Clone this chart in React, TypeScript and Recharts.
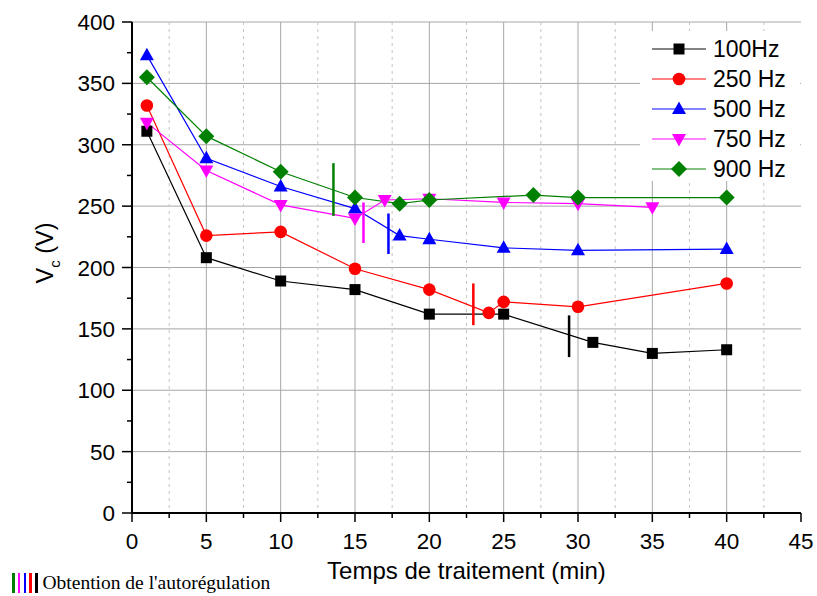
import React from 'react';
import { LineChart, Line, XAxis, YAxis, CartesianGrid, ReferenceLine } from 'recharts';

// Temps de traitement (min) et tension Vc (V) pour chaque fréquence
const t100 = [1, 5, 10, 15, 20, 25, 31, 35, 40];
const vc100 = [311, 208, 189, 182, 162, 162, 139, 130, 133];

const t250 = [1, 5, 10, 15, 20, 24, 25, 30, 40];
const vc250 = [332, 226, 229, 199, 182, 163, 172, 168, 187];

const t500 = [1, 5, 10, 15, 18, 20, 25, 30, 40];
const vc500 = [373, 289, 266, 248, 226, 223, 216, 214, 215];

const t750 = [1, 5, 10, 15, 17, 20, 25, 30, 35];
const vc750 = [318, 279, 251, 240, 255, 256, 253, 252, 249];

const t900 = [1, 5, 10, 15, 18, 20, 27, 30, 40];
const vc900 = [355, 307, 278, 257, 252, 255, 259, 257, 257];

// Obtention de l'autorégulation (traits verticaux)
const regKeys = ['900', '750', '500', '250', '100'];
const regT = [13.55, 15.57, 17.25, 22.96, 29.4];
const regLow = [242, 220, 211, 153, 127];
const regHigh = [285, 253, 244, 187, 161];

const xMajor = [0, 5, 10, 15, 20, 25, 30, 35, 40, 45];
const xMinor = [2.5, 7.5, 12.5, 17.5, 22.5, 27.5, 32.5, 37.5, 42.5];
const yMajor = [0, 50, 100, 150, 200, 250, 300, 350, 400];
const yMinor = [25, 75, 125, 175, 225, 275, 325, 375];

type Shape = 'square' | 'circle' | 'up' | 'down' | 'diamond';

const SERIES = [
  { key: '100', label: '100Hz', t: t100, v: vc100, color: '#000000', shape: 'square' as Shape },
  { key: '250', label: '250 Hz', t: t250, v: vc250, color: '#ff0000', shape: 'circle' as Shape },
  { key: '500', label: '500 Hz', t: t500, v: vc500, color: '#0000ff', shape: 'up' as Shape },
  { key: '750', label: '750 Hz', t: t750, v: vc750, color: '#ff00ff', shape: 'down' as Shape },
  { key: '900', label: '900 Hz', t: t900, v: vc900, color: '#008000', shape: 'diamond' as Shape },
];

const FONT = '"Liberation Sans", Arial, Helvetica, sans-serif';

function Marker({ shape, cx, cy, color }: { shape: Shape; cx: number; cy: number; color: string }) {
  if (cx == null || cy == null) return null;
  switch (shape) {
    case 'square':
      return <rect x={cx - 5.5} y={cy - 5.5} width={11} height={11} fill={color} />;
    case 'circle':
      return <circle cx={cx} cy={cy} r={6.3} fill={color} />;
    case 'up':
      return <polygon points={`${cx},${cy - 7.5} ${cx + 7},${cy + 5} ${cx - 7},${cy + 5}`} fill={color} />;
    case 'down':
      return <polygon points={`${cx - 7},${cy - 5} ${cx + 7},${cy - 5} ${cx},${cy + 7.5}`} fill={color} />;
    default:
      return <polygon points={`${cx},${cy - 8} ${cx + 8},${cy} ${cx},${cy + 8} ${cx - 8},${cy}`} fill={color} />;
  }
}

function XTick({ x, y, payload }: any) {
  const major = payload.value % 5 === 0;
  return (
    <g>
      <line x1={x} x2={x} y1={y} y2={y + (major ? 9 : 5)} stroke="#000" strokeWidth={1.5} />
      {major && (
        <text x={x} y={y + 36} textAnchor="middle" fontSize={22.5} fontFamily={FONT} fill="#000">
          {payload.value}
        </text>
      )}
    </g>
  );
}

function YTick({ x, y, payload }: any) {
  const major = payload.value % 50 === 0;
  return (
    <g>
      <line x1={x} x2={x - (major ? 10 : 5)} y1={y} y2={y} stroke="#000" strokeWidth={1.5} />
      {major && (
        <text x={x - 17} y={y + 8} textAnchor="end" fontSize={22.5} fontFamily={FONT} fill="#000">
          {payload.value}
        </text>
      )}
    </g>
  );
}

function YTitle() {
  return (
    <text transform="translate(53,253) rotate(-90)" textAnchor="middle" fontSize={23.5} fontFamily={FONT} fill="#000">
      V<tspan dy={7} fontSize={15}>c</tspan>
      <tspan dy={-7}> (V)</tspan>
    </text>
  );
}

function LegendBox() {
  return (
    <div
      style={{
        position: 'absolute', left: 640, top: 31, width: 160, height: 150,
        background: '#fff', fontFamily: FONT, fontSize: 23, color: '#000',
      }}
    >
      {SERIES.map((s, i) => (
        <div key={s.key} style={{ position: 'absolute', left: 0, top: 3 + i * 30, height: 30, display: 'flex', alignItems: 'center' }}>
          <svg width={70} height={30} style={{ display: 'block' }}>
            <line x1={12} x2={66} y1={15} y2={15} stroke={s.color} strokeOpacity={0.65} strokeWidth={1.5} />
            <Marker shape={s.shape} cx={39} cy={15} color={s.color} />
          </svg>
          <span style={{ marginLeft: 3, lineHeight: '30px' }}>{s.label}</span>
        </div>
      ))}
    </div>
  );
}

export default function App() {
  const seriesData = SERIES.map((s) => ({
    ...s,
    data: s.t.map((t, i) => ({ t, vc: s.v[i] })),
  }));
  const colorOf = (k: string) => SERIES.find((s) => s.key === k)!.color;

  return (
    <div style={{ position: 'absolute', left: 0, top: 0, width: 817, height: 596, background: '#fff' }}>
      <LineChart width={817} height={596} margin={{ top: 22, right: 16, bottom: 0, left: 0 }}>
        <CartesianGrid
          verticalValues={xMajor.filter((v) => v > 0 && v < 45)}
          horizontalValues={yMajor.filter((v) => v > 0)}
          stroke="#a6a6a6"
          strokeWidth={1}
        />
        <CartesianGrid verticalValues={xMinor} horizontal={false} stroke="#c4c4c4" strokeDasharray="3 4" />
        <XAxis
          type="number"
          dataKey="t"
          domain={[0, 45]}
          ticks={[...xMajor, ...xMinor].sort((a, b) => a - b)}
          interval={0}
          height={83}
          tickSize={0}
          tickMargin={0}
          tickLine={false}
          axisLine={{ stroke: '#000', strokeWidth: 2 }}
          tick={<XTick />}
          allowDuplicatedCategory={false}
          label={{
            value: 'Temps de traitement (min)',
            position: 'insideBottom',
            offset: 17,
            style: { fontSize: 24, fontFamily: FONT, fill: '#000' },
          }}
        />
        <YAxis
          type="number"
          domain={[0, 400]}
          ticks={[...yMajor, ...yMinor].sort((a, b) => a - b)}
          interval={0}
          width={132}
          tickSize={0}
          tickMargin={0}
          tickLine={false}
          axisLine={{ stroke: '#000', strokeWidth: 2 }}
          tick={<YTick />}
          label={{ content: () => <YTitle /> }}
        />
        {seriesData.map((s) => (
          <Line
            key={s.key}
            data={s.data}
            dataKey="vc"
            type="linear"
            stroke={s.color}
            strokeWidth={1.2}
            isAnimationActive={false}
            dot={(p: any) => <Marker key={`${s.key}-${p.index}`} shape={s.shape} cx={p.cx} cy={p.cy} color={s.color} />}
            activeDot={false}
          />
        ))}
        {regT.map((t, i) => (
          <ReferenceLine
            key={regKeys[i]}
            segment={[{ x: t, y: regLow[i] }, { x: t, y: regHigh[i] }]}
            stroke={colorOf(regKeys[i])}
            strokeWidth={2.5}
          />
        ))}
      </LineChart>
      <LegendBox />
      <div style={{ position: 'absolute', left: 12, top: 572, height: 21, display: 'flex', alignItems: 'flex-end' }}>
        {regKeys.map((k, i) => (
          <div
            key={k}
            style={{ width: 2.5, height: 20, background: colorOf(k), marginRight: i === 3 ? 3.5 : i === 1 ? 3.5 : 3 }}
          />
        ))}
        <span style={{ fontFamily: '"Liberation Serif", "Times New Roman", serif', fontSize: 19.5, lineHeight: '20px', marginLeft: 2, color: '#000' }}>
          Obtention de l'autorégulation
        </span>
      </div>
    </div>
  );
}
